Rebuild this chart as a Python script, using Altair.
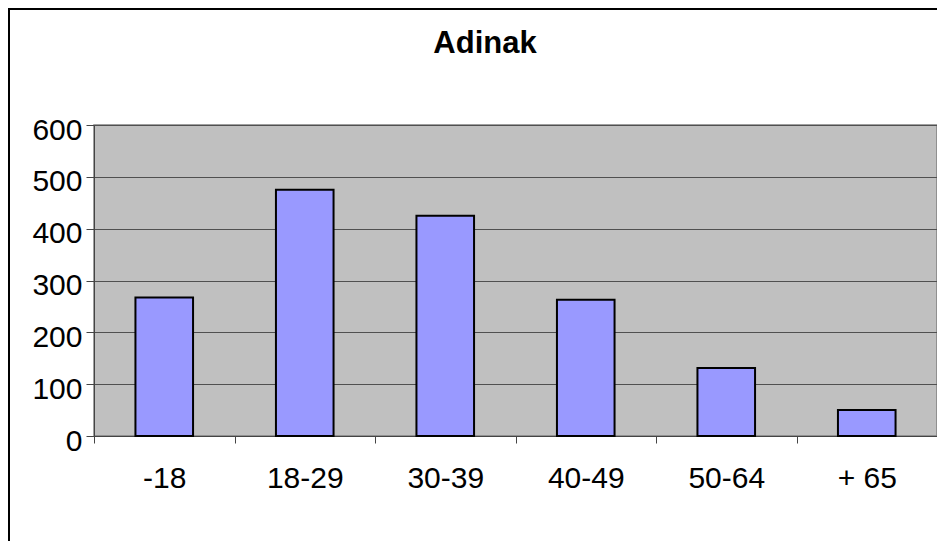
import altair as alt
import pandas as pd

categories = ["-18", "18-29", "30-39", "40-49", "50-64", "+ 65"]
values = [267, 475, 425, 263, 131, 50]
y_ticks = [0, 100, 200, 300, 400, 500, 600]
title_text = "Adinak"

df = pd.DataFrame({"cat": categories, "val": values})
one = pd.DataFrame({"t": [title_text]})

FONT = "Liberation Sans"

bars = alt.Chart(df).mark_bar(color="#9999ff", stroke="black", strokeWidth=2,
                              width=alt.RelativeBandSize(0.41)).encode(
    x=alt.X("cat:N", sort=categories,
            scale=alt.Scale(paddingInner=0, paddingOuter=0),
            axis=alt.Axis(title=None, labelAngle=0, tickBand="extent", tickSize=7,
                          tickColor="#444", domainColor="#444", labelFont=FONT,
                          labelFontSize=30, labelColor="black", labelPadding=20,
                          grid=False)),
    y=alt.Y("val:Q", scale=alt.Scale(domain=[0, 600], nice=False),
            axis=alt.Axis(title=None, values=y_ticks, tickSize=8, tickColor="#444",
                          domainColor="#444", labelFont=FONT, labelFontSize=30,
                          labelColor="black", labelPadding=4, labelOffset=5,
                          grid=True, gridColor="#505050", gridWidth=1.2)),
)

border = alt.Chart(one).mark_rect(fill=None, stroke="black", strokeWidth=2).encode(
    x=alt.value(-85), x2=alt.value(1200), y=alt.value(-116), y2=alt.value(800)
)

title = alt.Chart(one).mark_text(font=FONT, fontSize=31, fontWeight="bold",
                                  baseline="alphabetic", align="center", color="black").encode(
    text="t:N", x=alt.value(391), y=alt.value(-72)
)

chart = alt.layer(bars, border, title).properties(
    width=843, height=311,
    autosize=alt.AutoSizeParams(type="none"),
    padding={"left": 86, "top": 117, "right": 0, "bottom": 105},
    background="white",
).configure_view(fill="#c0c0c0", stroke="#808080", strokeWidth=1.5)

chart.save("out.html", embed_options={"renderer": "svg", "actions": False})
